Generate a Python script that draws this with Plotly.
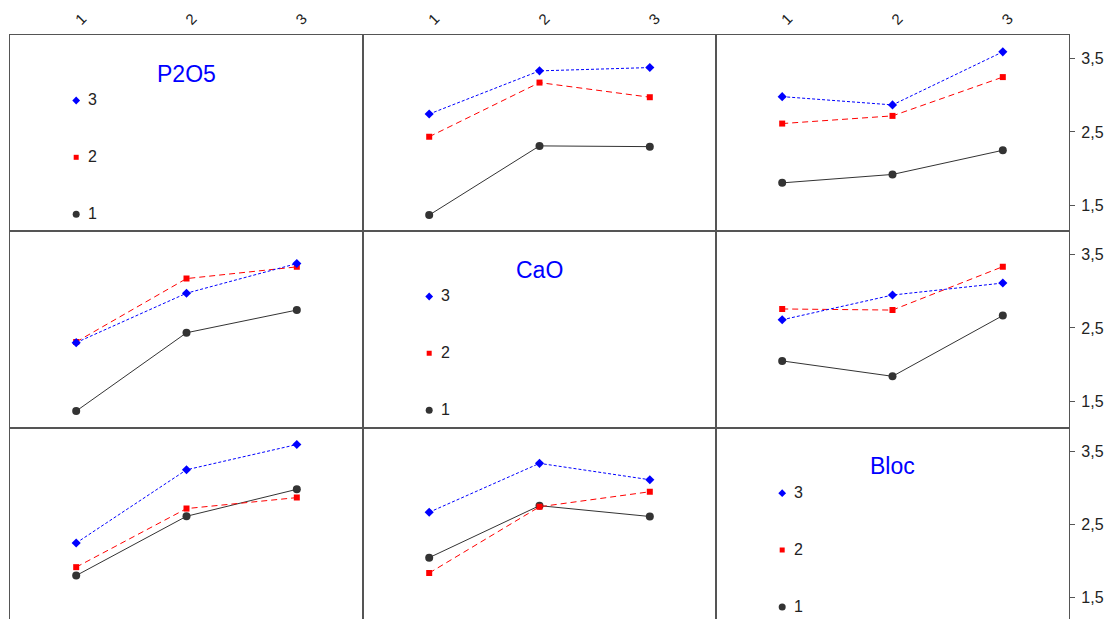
import plotly.graph_objects as go
from plotly.subplots import make_subplots

# ---------------- data ----------------
factor_names = ["P2O5", "CaO", "Bloc"]
x_levels = [1, 2, 3]
x_tick_labels = ["1", "2", "3"]
trace_levels = ["1", "2", "3"]
y_tick_vals = [1.5, 2.5, 3.5]
y_tick_labels = ["1,5", "2,5", "3,5"]

# Row 1: traces = P2O5 levels
P2O5_by_CaO_1 = [1.365, 2.31, 2.30]
P2O5_by_CaO_2 = [2.435, 3.175, 2.975]
P2O5_by_CaO_3 = [2.745, 3.335, 3.38]
P2O5_by_Bloc_1 = [1.805, 1.92, 2.25]
P2O5_by_Bloc_2 = [2.615, 2.72, 3.25]
P2O5_by_Bloc_3 = [2.983, 2.87, 3.595]
# Row 2: traces = CaO levels
CaO_by_P2O5_1 = [1.365, 2.435, 2.745]
CaO_by_P2O5_2 = [2.31, 3.175, 3.335]
CaO_by_P2O5_3 = [2.30, 2.975, 3.38]
CaO_by_Bloc_1 = [2.05, 1.84, 2.67]
CaO_by_Bloc_2 = [2.76, 2.745, 3.338]
CaO_by_Bloc_3 = [2.612, 2.95, 3.114]
# Row 3: traces = Bloc levels
Bloc_by_P2O5_1 = [1.805, 2.615, 2.983]
Bloc_by_P2O5_2 = [1.92, 2.72, 2.87]
Bloc_by_P2O5_3 = [2.25, 3.25, 3.595]
Bloc_by_CaO_1 = [2.05, 2.76, 2.612]
Bloc_by_CaO_2 = [1.84, 2.745, 2.95]
Bloc_by_CaO_3 = [2.67, 3.338, 3.114]

panels = {
    (1, 2): [P2O5_by_CaO_1, P2O5_by_CaO_2, P2O5_by_CaO_3],
    (1, 3): [P2O5_by_Bloc_1, P2O5_by_Bloc_2, P2O5_by_Bloc_3],
    (2, 1): [CaO_by_P2O5_1, CaO_by_P2O5_2, CaO_by_P2O5_3],
    (2, 3): [CaO_by_Bloc_1, CaO_by_Bloc_2, CaO_by_Bloc_3],
    (3, 1): [Bloc_by_P2O5_1, Bloc_by_P2O5_2, Bloc_by_P2O5_3],
    (3, 2): [Bloc_by_CaO_1, Bloc_by_CaO_2, Bloc_by_CaO_3],
}

# ---------------- styles / layout ----------------
FONT = "Arial, Liberation Sans, sans-serif"
W, H = 1105, 619
ML, MR, MT, MB = 10, 36, 35, 0
row_px = [196, 196.7, 191.3]
PX_PER_UNIT = 73.2
Y_TOP = 3.825
x_range = [0.4, 3.6]

styles = [
    dict(color="#333333", dash="solid", symbol="circle", size=8),
    dict(color="#ff0000", dash="6px,4px", symbol="square", size=6),
    dict(color="#0000ff", dash="3px,2px", symbol="diamond", size=7),
]
legend_offsets_px = [179.3, 122.3, 65.5]  # from top of panel, for levels 1,2,3

fig = make_subplots(rows=3, cols=3, horizontal_spacing=0, vertical_spacing=0,
                    row_heights=row_px)

for (r, c), series in panels.items():
    for k, ys in enumerate(series):
        st = styles[k]
        fig.add_trace(go.Scatter(
            x=x_levels, y=ys, mode="lines+markers",
            line=dict(color=st["color"], dash=st["dash"], width=1),
            marker=dict(color=st["color"], symbol=st["symbol"], size=st["size"],
                        line=dict(width=0)),
            showlegend=False, hoverinfo="x+y"), row=r, col=c)

# diagonal legend cells
for i, name in enumerate(factor_names):
    r = c = i + 1
    for k, lev in enumerate(trace_levels):
        st = styles[k]
        yv = Y_TOP - legend_offsets_px[k] / PX_PER_UNIT
        fig.add_trace(go.Scatter(
            x=[x_levels[0]], y=[yv], mode="markers",
            marker=dict(color=st["color"], symbol=st["symbol"], size=st["size"] - 1,
                        line=dict(width=0)),
            showlegend=False, hoverinfo="skip"), row=r, col=c)
        fig.add_annotation(x=x_levels[0], y=yv, text=lev, showarrow=False,
                           xanchor="left", xshift=10, yshift=1,
                           font=dict(family=FONT, size=16, color="#222"),
                           row=r, col=c)
    fig.add_annotation(x=0.5, y=1 - 38.5 / row_px[i], xref="x domain", yref="y domain",
                       text=name, showarrow=False, xanchor="center", yanchor="middle",
                       font=dict(family=FONT, size=23, color="#0000ff"),
                       row=r, col=c)

for r in range(1, 4):
    y_lo = Y_TOP - row_px[r - 1] / PX_PER_UNIT
    for c in range(1, 4):
        fig.update_xaxes(range=x_range, showgrid=False, zeroline=False, automargin=False,
                         showline=True, mirror=True, linecolor="#555", linewidth=1.3,
                         tickvals=x_levels, ticktext=x_tick_labels,
                         showticklabels=(r == 1), side="top" if r == 1 else "bottom",
                         ticks="", tickangle=-45, ticklabelstandoff=0,
                         tickfont=dict(family=FONT, size=15, color="#222"),
                         row=r, col=c)
        fig.update_yaxes(range=[y_lo, Y_TOP], showgrid=False, zeroline=False, automargin=False,
                         showline=True, mirror=True, linecolor="#555", linewidth=1.3,
                         tickvals=y_tick_vals, ticktext=y_tick_labels,
                         showticklabels=(c == 3), side="right" if c == 3 else "left",
                         ticks="outside" if c == 3 else "", ticklen=5, tickcolor="#555",
                         ticklabelstandoff=3,
                         tickfont=dict(family=FONT, size=16, color="#222"),
                         row=r, col=c)

fig.update_layout(width=W, height=H, margin=dict(l=ML, r=MR, t=MT, b=MB),
                  paper_bgcolor="white", plot_bgcolor="white", showlegend=False)

fig.write_html("out.html", config={"displayModeBar": False},
               post_script="document.body.style.margin='0';document.body.style.overflow='hidden';")
